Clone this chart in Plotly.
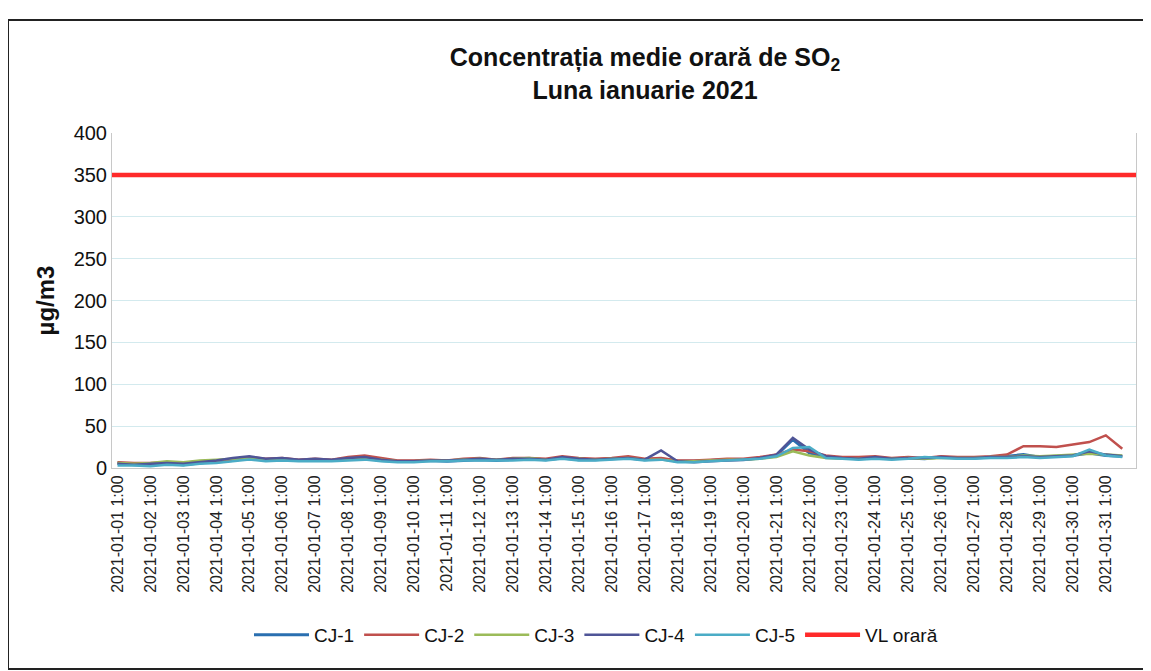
import pandas as pd
import plotly.graph_objects as go

# 12-hourly readings, starting 2021-01-01 01:00
times = pd.date_range("2021-01-01 01:00", periods=62, freq="12h")

cj1 = [6, 4, 4, 5, 4, 6,
       8, 9, 12, 10, 11, 9,
       10, 9, 11, 12, 9, 8,
       8, 9, 8, 9, 10, 9,
       10, 11, 10, 12, 10, 10,
       11, 12, 10, 11, 8, 8,
       9, 10, 10, 12, 15, 34,
       18, 13, 12, 11, 12, 11,
       12, 11, 13, 12, 12, 13,
       14, 16, 13, 14, 15, 18, 15, 14]
cj2 = [7, 6, 6, 7, 6, 8,
       9, 10, 13, 11, 12, 10,
       11, 10, 13, 15, 12, 9,
       9, 10, 9, 11, 12, 10,
       12, 12, 11, 14, 12, 11,
       12, 14, 11, 12, 9, 9,
       10, 11, 11, 13, 16, 22,
       20, 15, 13, 13, 14, 12,
       13, 12, 14, 13, 13, 14,
       16, 26, 26, 25, 28, 31, 39, 23]
cj3 = [6, 5, 6, 8, 7, 9,
       10, 11, 11, 10, 10, 9,
       9, 9, 10, 11, 10, 8,
       8, 9, 9, 10, 11, 10,
       11, 12, 10, 12, 11, 10,
       11, 12, 10, 10, 8, 8,
       9, 10, 10, 11, 13, 20,
       15, 12, 11, 11, 12, 11,
       12, 11, 12, 12, 12, 13,
       13, 15, 14, 15, 16, 17, 16, 15]
cj4 = [5, 4, 5, 6, 5, 7,
       9, 12, 14, 11, 12, 10,
       11, 10, 12, 13, 10, 8,
       8, 9, 9, 10, 11, 10,
       11, 11, 10, 13, 11, 10,
       11, 12, 10, 21, 8, 7,
       8, 9, 10, 12, 16, 36,
       22, 14, 12, 11, 13, 11,
       12, 12, 13, 12, 12, 13,
       13, 14, 13, 14, 15, 20, 16, 14]
cj5 = [3, 3, 2, 4, 3, 5,
       6, 8, 10, 8, 9, 8,
       8, 8, 9, 10, 8, 7,
       7, 8, 8, 9, 9, 9,
       9, 10, 9, 11, 9, 9,
       10, 11, 9, 10, 7, 7,
       8, 9, 10, 11, 14, 24,
       25, 12, 11, 10, 11, 10,
       11, 13, 12, 11, 11, 12,
       12, 13, 12, 13, 14, 22, 15, 13]

vl_times = ["2020-12-31 21:00", "2021-01-31 23:00"]
vl_values = [350, 350]

series = [
    ("CJ-1", cj1, "#2a6fb0", 3),
    ("CJ-2", cj2, "#c0504d", 2.5),
    ("CJ-3", cj3, "#9bbb59", 2.5),
    ("CJ-4", cj4, "#4f5597", 2.5),
    ("CJ-5", cj5, "#4bacc6", 2.5),
]

fig = go.Figure()
for name, vals, color, w in series:
    fig.add_trace(go.Scatter(x=times, y=vals, name=name, mode="lines",
                             line=dict(color=color, width=w)))
fig.add_trace(go.Scatter(x=vl_times, y=vl_values, name="VL orară", mode="lines",
                         line=dict(color="#ff2a2a", width=4.5)))

# page body offsets the figure by 8px; layout below is in screen pixels
OFF = 8
W, H = 1151, 671
plot_left, plot_right, plot_top, plot_bottom = 112, 1136, 133, 468
L = plot_left - OFF
T = plot_top - OFF
R = W - (plot_right - OFF)
B = H - (plot_bottom - OFF)
pw = plot_right - plot_left
ph = plot_bottom - plot_top

def px_x(p):
    return (p - plot_left) / pw

def px_y(p):
    return (plot_bottom - p) / ph

fig.update_layout(
    width=W, height=H,
    margin=dict(l=L, r=R, t=T, b=B),
    paper_bgcolor="white", plot_bgcolor="white",
    font=dict(family="Liberation Sans, Arial, sans-serif", color="#111111"),
    title=dict(text="<b>Concentrația medie orară de SO<sub>2</sub><br>Luna ianuarie 2021</b>",
               x=(645 - OFF) / W, xanchor="center", y=1 - (66 - OFF) / H, yanchor="middle",
               yref="container", xref="container",
               font=dict(size=25, color="#111111")),
    showlegend=True,
    legend=dict(orientation="h", x=px_x(596), xanchor="center", y=px_y(635), yanchor="middle",
                font=dict(size=19), itemwidth=55, traceorder="normal"),
    xaxis=dict(
        type="date",
        range=["2020-12-31 21:00", "2021-01-31 23:00"],
        tick0="2021-01-01 01:00", dtick=86400000,
        tickformat="%Y-%m-%d %-H:%M", tickangle=-90,
        tickfont=dict(size=16, color="#222222"),
        showgrid=False, showline=True, linecolor="#c8c8c8", linewidth=1,
        ticks="", zeroline=False,
    ),
    yaxis=dict(
        range=[0, 400], dtick=50, tick0=0,
        tickfont=dict(size=20, color="#111111"),
        showgrid=True, gridcolor="#d3eaee", gridwidth=1,
        showline=True, linecolor="#c8c8c8", mirror=True,
        zeroline=False, ticks="",
        title=dict(text="<b>µg/m3</b>", font=dict(size=24, color="#111111"), standoff=12),
    ),
    shapes=[dict(type="rect", xref="paper", yref="paper",
                 x0=px_x(8), x1=px_x(1149), y0=px_y(669), y1=px_y(20),
                 line=dict(color="#222222", width=2), layer="below")],
)

fig.write_html("out.html")
